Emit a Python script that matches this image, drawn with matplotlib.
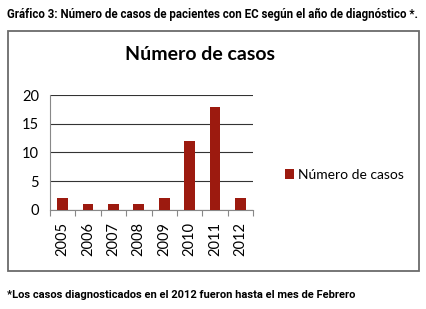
import matplotlib.pyplot as plt
from matplotlib.patches import Rectangle

# datos del grafico
anios = ['2005', '2006', '2007', '2008', '2009', '2010', '2011', '2012']
casos = [2, 1, 1, 1, 2, 12, 18, 2]
serie = 'Número de casos'

titulo = 'Gráfico 3: Número de casos de pacientes con EC según el año de diagnóstico *.'
nota = '*Los casos diagnosticados en el 2012 fueron hasta el mes de Febrero'

W, H = 426, 309
fig = plt.figure(figsize=(W / 100, H / 100), dpi=100)

narrow = ['Roboto', 'DejaVu Sans']
chart_font = ['Lato', 'DejaVu Sans']

# titulo y nota al pie
t1 = fig.text(7 / W, 1 - 14 / H, titulo, family=narrow, weight='bold',
              fontsize=9, va='center', ha='left')
t2 = fig.text(7 / W, 1 - 295 / H, nota, family=narrow, weight='bold',
              fontsize=9, va='center', ha='left')

# ajusto el tamaño para que ocupen el ancho que tienen en la imagen
renderer = fig.canvas.get_renderer()
for t, ancho in [(t1, 411), (t2, 349)]:
    w = t.get_window_extent(renderer).width
    t.set_fontsize(9 * ancho / w)

# marco gris alrededor del grafico
fig.patches.append(Rectangle((7.5 / W, 1 - 271 / H), 411 / W, 240 / H,
                             transform=fig.transFigure, fill=False,
                             edgecolor='#6b6b6b', linewidth=1.3))

ax = fig.add_axes([50 / W, 1 - 209.7 / H, 203 / W, 114.4 / H])
x = range(len(anios))
ax.bar(x, casos, width=0.42, color='#9c1a0f', label=serie, zorder=3)
ax.set_xlim(-0.5, len(anios) - 0.5)
ax.set_ylim(0, 20)
ax.set_yticks([0, 5, 10, 15, 20])
ax.yaxis.grid(True, color='#333333', linewidth=0.8, zorder=0)
ax.tick_params(axis='y', length=0, labelsize=10.5, pad=8)
for lab in ax.get_yticklabels():
    lab.set_family(chart_font)

# separadores entre categorias
ax.set_xticks([i - 0.5 for i in range(len(anios) + 1)])
ax.set_xticklabels([])
ax.set_xticks(list(x), minor=True)
ax.set_xticklabels(anios, minor=True, rotation=90, family=chart_font, fontsize=10.5)
ax.tick_params(axis='x', which='major', length=4, color='#888888')
ax.tick_params(axis='x', which='minor', length=0, pad=9)

for s in ['top', 'right']:
    ax.spines[s].set_visible(False)
ax.spines['left'].set_color('#888888')
ax.spines['bottom'].set_color('#888888')
ax.spines['left'].set_linewidth(0.8)

fig.text(200 / W, 1 - 54 / H, serie, family=chart_font, weight='bold',
         fontsize=14, ha='center', va='center')

ax.legend(loc='center left', bbox_to_anchor=(279 / W, 1 - 175 / H),
          bbox_transform=fig.transFigure, frameon=False,
          prop={'family': chart_font, 'size': 10},
          handlelength=0.7, handleheight=0.7, handletextpad=0.3, borderaxespad=0)

fig.savefig('out.png', dpi=100)
